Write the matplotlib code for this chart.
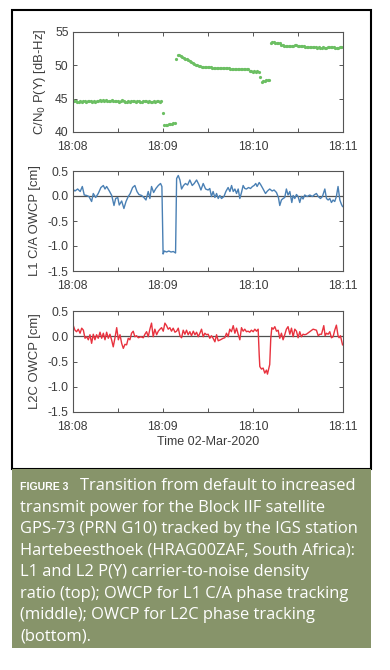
import matplotlib
matplotlib.use("Agg")
import matplotlib.pyplot as plt
import matplotlib.patches as patches
import numpy as np

plt.rcParams['font.family'] = ['Liberation Sans', 'DejaVu Sans']
plt.rcParams['axes.unicode_minus'] = False

# time in seconds after 18:08:00
tick_pos = [0, 60, 120, 180]
tick_lab = ['18:08', '18:09', '18:10', '18:11']

# C/N0 P(Y), one sample per second
cn0 = [44.8,44.7,44.6,44.55,44.55,44.6,44.55,44.6,44.6,44.55,
       44.6,44.7,44.6,44.55,44.6,44.55,44.6,44.7,44.75,44.7,
       44.75,44.7,44.75,44.6,44.6,44.7,44.75,44.7,44.6,44.6,
       44.6,44.55,44.7,44.75,44.6,44.55,44.55,44.6,44.55,44.6,
       44.6,44.7,44.55,44.6,44.6,44.55,44.55,44.6,44.7,44.6,
       44.55,44.6,44.55,44.55,44.6,44.55,44.6,44.6,44.55,44.6,
       42.8,
       41.1,41.1,41.1,41.15,41.2,41.25,41.3,41.3,
       50.9,51.6,51.5,51.35,51.2,51.1,51.0,50.9,50.75,50.6,
       50.45,50.35,50.25,50.1,50.0,49.95,49.85,49.8,49.8,49.75,49.75,49.7,
       49.7,49.7,49.65,49.65,49.6,49.6,49.55,49.55,49.6,49.55,
       49.6,49.65,49.6,49.55,49.5,49.45,49.5,49.45,49.45,49.45,
       49.5,49.45,49.45,49.45,49.45,49.4,49.45,
       49.1,49.1,49.05,49.1,49.05,49.1,49.0,
       48.3,
       47.55,47.6,47.7,47.75,47.8,47.8,
       53.4,53.45,53.45,53.4,53.4,53.35,53.3,
       53.1,53.0,52.95,52.95,52.9,52.9,52.95,52.9,52.95,53.0,
       53.0,52.95,52.9,52.9,52.85,52.85,52.8,52.8,52.8,52.8,
       52.75,52.75,52.75,52.7,52.65,52.7,52.6,52.65,52.75,52.65,
       52.6,52.7,52.75,52.75,52.7,52.7,52.65,52.6,52.6,52.7,
       52.75,52.8]
cn0_t = np.arange(len(cn0))

l1_t = [0,1.5,3.3,5,6.4,7.7,9.3,10.8,12.6,13.7,15.3,17,18.8,20.4,21.5,22.6,24.4,26,27.5,28.6,
        30,31,32.6,34.1,35.5,37,38.3,39.9,41.4,42.8,44.1,45.9,47.4,48.8,50.3,51.4,52.5,53.9,55.4,57,
        58.5,59.4,60.2,61,62.5,64,65.5,67,68.5,69.2,70.3,71.4,72.5,73.8,75.1,76.5,78,79.6,80.9,82.5,
        84,85.4,86.9,88.5,90.2,91.3,92.4,93.5,94.7,95.8,96.9,98,99.1,100.7,102,103.5,104.7,105.8,106.9,108,
        109.1,110.2,111.3,112.4,113.5,114.6,115.7,117.1,118.4,119.7,120.8,121.9,122.8,124.2,125.3,126.8,128.4,129.7,131.2,132.8,
        134.1,135.7,137,137.9,139,140.1,141.2,142.3,143.4,144.6,145.9,146.8,147.9,149,150.1,151.2,152.3,153.4,154.5,156.1,
        157.9,159.6,161.2,162.3,163.5,165,166.3,167.9,169,170.1,171.2,172.3,173.4,174.5,175.6,176.7,177.9,179,179.7]
l1_v = [0.14,0.10,0.14,0.09,0.19,0.02,0.01,-0.01,-0.11,0.05,-0.03,0.05,0.17,0.21,0.14,0.19,0.10,0.01,-0.19,-0.05,
        -0.03,-0.18,-0.10,-0.25,-0.11,-0.01,0.05,0.17,0.21,0.09,0.03,0.01,-0.03,-0.08,0.09,-0.05,0.19,0.07,0.15,0.21,
        0.25,0.19,-1.16,-1.10,-1.12,-1.10,-1.12,-1.11,-1.14,0.35,0.41,0.32,0.14,0.21,0.25,0.22,0.32,0.21,0.25,0.32,
        0.23,0.12,0.25,0.14,0.12,0.15,-0.01,0.09,-0.03,0.05,-0.05,0.01,-0.05,-0.01,0.09,0.17,0.09,0.21,0.09,0.14,
        0.05,0.14,-0.05,0.07,0.21,0.15,0.14,0.17,0.15,0.19,0.21,0.25,0.19,0.27,0.22,0.14,0.05,0.10,0.14,0.10,
        0.12,0.07,-0.03,-0.19,-0.08,-0.05,-0.03,0.14,0.02,0.09,-0.13,0.01,-0.05,0.03,-0.01,-0.13,-0.01,-0.06,0.02,-0.01,
        0.02,-0.01,0.03,0.05,-0.01,-0.05,-0.01,0.14,-0.05,-0.08,-0.05,-0.13,-0.08,-0.11,-0.01,0.19,-0.08,-0.17,-0.21]

l2_t = [0,0.4,1.5,2.6,3.7,4.9,6,7.1,8.2,9.3,10.4,11.5,12.6,13.7,14.8,15.9,17,18.2,19.3,20.4,
        21.5,22.6,23.7,24.8,25.9,27,28.1,29.3,30.4,31.5,32.6,33.7,34.8,35.9,37,38.1,39.2,40.3,41.4,42.5,
        43.7,45.4,47,48.1,49.2,50.3,51.4,52.5,53.6,54.7,55.9,57,58.1,59.2,60.3,61.4,62.5,63.6,64.7,65.8,
        66.9,68.1,69.2,70.3,71.4,72.5,73.6,74.7,75.8,76.9,78,79.1,80.3,81.4,82.5,83.6,84.7,85.8,86.9,88,
        89.1,90.2,91.3,92.4,93.5,94.7,95.8,96.9,98.4,100.2,101.3,102.4,103.5,104.6,105.7,106.9,108,109.1,110.2,111.3,
        112.4,113.5,114.6,115.7,116.8,117.9,119,120.2,121.3,122.4,123.5,124.2,124.6,125.7,126.8,127.9,129,129.7,130.6,131.2,
        131.9,132.6,133.5,134.6,135.7,136.8,137.9,139,140.1,141.2,142.3,143.4,144.6,145.7,146.8,147.9,149,150.1,151.2,152.3,
        153.4,154.5,155.6,157.9,160.1,162.3,163.5,164.6,165.7,167.2,168.1,169,170.1,171.2,172.3,173.4,174.5,175.6,176.7,177.4,
        178.3,179.2,179.7]
l2_v = [0.19,0.21,0.12,0.09,0.14,0.06,0.16,0.12,-0.04,-0.01,-0.07,0.03,-0.14,0.04,-0.07,0.03,-0.04,0.08,-0.04,0.06,
        -0.07,0.08,-0.04,0.04,-0.07,-0.21,-0.04,0.17,-0.07,0.03,-0.14,-0.24,-0.16,-0.17,-0.04,-0.07,0.06,0.10,-0.01,0.01,
        -0.03,-0.01,-0.03,0.04,0.09,-0.01,0.14,0.26,-0.01,0.14,0.03,0.10,0.14,0.17,0.10,0.26,0.21,0.14,0.17,0.10,
        0.16,0.08,0.10,0.16,0.01,-0.03,0.12,0.04,0.12,0.03,0.09,0.01,0.10,0.03,0.08,-0.01,0.06,0.14,-0.01,0.06,
        0.03,0.04,-0.04,0.01,-0.04,-0.11,0.03,-0.09,-0.07,-0.04,-0.03,0.06,-0.01,0.14,0.09,0.21,0.06,0.16,0.04,-0.07,
        0.17,0.10,0.14,0.09,0.10,0.08,0.12,0.09,0.14,0.10,0.14,-0.37,-0.60,-0.65,-0.63,-0.73,-0.67,-0.75,-0.63,-0.56,
        -0.04,0.17,0.14,0.19,0.10,0.12,-0.04,0.06,-0.07,0.03,0.14,0.19,0.04,0.16,-0.01,0.14,0.10,-0.03,0.09,-0.01,
        0.04,0.03,0.04,0.09,0.14,0.12,0.01,0.04,0.04,0.21,0.01,0.06,0.04,0.09,-0.03,-0.01,0.12,0.22,0.01,-0.03,
        0.01,-0.11,-0.17]

ylab = ['C/N$_0$ P(Y) [dB-Hz]', 'L1 C/A OWCP [cm]', 'L2C OWCP [cm]']
owcp_ticks = [-1.5, -1.0, -0.5, 0.0, 0.5]

caption = ["transmit power for the Block IIF satellite",
           "GPS-73 (PRN G10) tracked by the IGS station",
           "Hartebeesthoek (HRAG00ZAF, South Africa):",
           "L1 and L2 P(Y) carrier-to-noise density",
           "ratio (top); OWCP for L1 C/A phase tracking",
           "(middle); OWCP for L2C phase tracking",
           "(bottom)."]

W, H = 390, 670
fig = plt.figure(figsize=(W/100, H/100), dpi=100)
txtc = '#3c3c3c'
spc = '#555555'

def style(ax):
    ax.set_xlim(0, 180)
    ax.set_xticks(tick_pos)
    ax.set_xticklabels(tick_lab)
    ax.set_xticks([30, 90, 150], minor=True)
    ax.tick_params(which='both', direction='in', top=True, right=True, length=3,
                   width=0.7, color=spc, labelcolor=txtc, labelsize=8.7)
    ax.tick_params(axis='x', pad=6.5)
    ax.tick_params(axis='y', pad=3)
    for s in ax.spines.values():
        s.set_color(spc)
        s.set_linewidth(0.8)

def box(top, bot):
    return [72.7/W, 1-bot/H, (343-72.7)/W, (bot-top)/H]

ax1 = fig.add_axes(box(32, 132))
ax1.plot(cn0_t, cn0, 'o', ms=2.3, mew=0, color='#6cbf63')
ax1.set_ylim(40, 55)
ax1.set_yticks([40, 45, 50, 55])
style(ax1)
ax1.set_ylabel(ylab[0], color=txtc, fontsize=9.4, labelpad=5)

ax2 = fig.add_axes(box(171, 271))
ax2.axhline(0, color='#505050', lw=0.9)
ax2.plot(l1_t, l1_v, color='#4a80b4', lw=1.0)
ax2.set_ylim(-1.5, 0.5)
ax2.set_yticks(owcp_ticks)
ax2.set_yticklabels(['%.1f' % v for v in owcp_ticks])
style(ax2)
ax2.set_ylabel(ylab[1], color=txtc, fontsize=9.4, labelpad=5)

ax3 = fig.add_axes(box(311, 412))
ax3.axhline(0, color='#505050', lw=0.9)
ax3.plot(l2_t, l2_v, color='#e8323e', lw=1.0)
ax3.set_ylim(-1.5, 0.5)
ax3.set_yticks(owcp_ticks)
ax3.set_yticklabels(['%.1f' % v for v in owcp_ticks])
style(ax3)
ax3.set_ylabel(ylab[2], color=txtc, fontsize=9.4, labelpad=5)
ax3.set_xlabel('Time 02-Mar-2020', color=txtc, fontsize=9, labelpad=2)

# frame and caption box
fig.patches.append(patches.Rectangle((12/W, 1-469/H), 359/W, 459/H, transform=fig.transFigure,
                                     fill=False, ec='black', lw=1.5))
fig.patches.append(patches.Rectangle((12/W, 1-648/H), 359/W, 179/H, transform=fig.transFigure,
                                     fc='#87946a', ec='none'))

fig.text(20/W, 1-490.5/H, 'FIGURE 3', family=['Liberation Sans'],
         weight='bold', fontsize=7.6, color='white', va='baseline')
fig.text(80/W, 1-490.5/H, 'Transition from default to increased', family=['Open Sans'],
         fontsize=11.9, color='white', va='baseline')
for i, line in enumerate(caption):
    fig.text(20/W, 1-(512+21.4*i)/H, line, family=['Open Sans'],
             fontsize=11.9, color='white', va='baseline')

fig.savefig('out.png', dpi=100)
